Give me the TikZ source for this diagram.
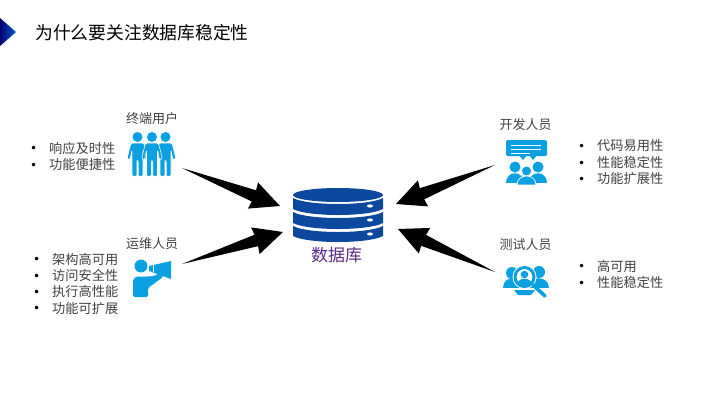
\documentclass[tikz,border=0pt]{standalone}
\usepackage{fontspec}
\setmainfont{Noto Sans CJK SC}
\newfontfamily\simbolos{DejaVu Sans}
\usetikzlibrary{calc,positioning,shadings}
\definecolor{azulicono}{RGB}{10,160,225}
\definecolor{azuldb}{RGB}{11,72,158}
\definecolor{morado}{RGB}{90,40,135}
\definecolor{gristexto}{RGB}{64,64,64}
\tikzset{
    titulo/.style={anchor=west,inner sep=0pt,text=black,font=\fontsize{17.8}{20}\selectfont},
    etiqueta/.style={inner sep=0pt,text=gristexto,font=\fontsize{13}{15}\selectfont},
    punto/.style={inner sep=0pt,minimum height=16pt,text=gristexto,font=\fontsize{13.2}{15}\selectfont,
        label={[inner sep=0pt,label distance=11.5pt,yshift=-1.5pt,text=black,font=\simbolos\fontsize{12}{14}\selectfont]left:•}},
    icono/.style={fill=azulicono,draw=none},
    hueco/.style={fill=white,draw=none},
    banda/.style={fill=azuldb,draw=none},
    persona/.pic={
        \fill [icono] (0,0) circle [radius=5pt];
        \path [icono,draw=white,line width=0.6pt,rounded corners=1.5pt] (-6.5,6) -- (6.5,6) -- (10.5,22) -- (7.5,23) -- (5.5,13) -- (5.5,39.5) -- (0.7,39.5)
            -- (0.7,24) -- (-0.7,24) -- (-0.7,39.5) -- (-5.5,39.5) -- (-5.5,13) -- (-7.5,23) -- (-10.5,22) -- cycle;
    },
}
\newcommand{\flecha}[2]{
    \fill [black] (#1) -- ($(#2)!28pt!(#1)!6pt!90:(#1)$) -- ($(#2)!29pt!(#1)!14pt!90:(#1)$) -- (#2)
        -- ($(#2)!29pt!(#1)!14pt!-90:(#1)$) -- ($(#2)!28pt!(#1)!6pt!-90:(#1)$) -- cycle;
}
\begin{document}
\begin{tikzpicture}[x=1pt,y=-1pt]
    \useasboundingbox (0,0) rectangle (710,400);

    \shade [left color=blue!45!black,right color=blue!55!cyan!80!black] (0,18) -- (16,32) -- (0,46) -- cycle;
    \node [titulo] (titulo) at (35,33) {为什么要关注数据库稳定性};

    \node [etiqueta] (lusuarios) at (152,119) {终端用户};
    \node [etiqueta] (loperacion) at (152,244) {运维人员};
    \node [etiqueta] (ldesarrollo) at (525.5,125) {开发人员};
    \node [etiqueta] (lpruebas) at (525.5,245) {测试人员};
    \node [etiqueta,text=morado,font=\fontsize{17}{20}\selectfont] (ldatos) at (336.5,255) {数据库};

    \node [punto,anchor=west] (u1) at (49,148) {响应及时性};
    \node [punto,below=0pt of u1] (u2) {功能便捷性};

    \node [punto,anchor=west] (o1) at (52,259) {架构高可用};
    \node [punto,below=0pt of o1] (o2) {访问安全性};
    \node [punto,below=0pt of o2] (o3) {执行高性能};
    \node [punto,below=0pt of o3] (o4) {功能可扩展};

    \node [punto,anchor=west] (d1) at (597,146) {代码易用性};
    \node [punto,below=0pt of d1] (d2) {性能稳定性};
    \node [punto,below=0pt of d2] (d3) {功能扩展性};

    \node [punto,anchor=west] (p1) at (597,266) {高可用};
    \node [punto,below=0pt of p1.south west,anchor=north west] (p2) {性能稳定性};

    % base de datos
    \foreach \a/\b in {198/209,212/223,226/236} {
        \fill [banda] (293,\a) -- (293,\b) .. controls (308,\b+8) and (368,\b+8) .. (383,\b)
            -- (383,\a) .. controls (368,\a+8) and (308,\a+8) .. (293,\a) -- cycle;
    }
    \fill [banda] (338,195) ellipse [x radius=45pt,y radius=7pt];
    \foreach \y in {206,220,234} {
        \fill [hueco] (370,\y) ellipse [x radius=3pt,y radius=1.6pt];
    }

    % usuarios
    \pic at (137.5,137) {persona};
    \pic at (165.5,137) {persona};
    \pic at (152,137) {persona};

    % operacion
    \fill [icono] (141,266) circle [radius=6.5pt];
    \fill [icono,rounded corners=1.5pt] (133,297) -- (133,280) -- (136,276.5) -- (148,276.5) -- (154,276) -- (160,273) -- (163,277) -- (148,288) -- (148,297) -- cycle;
    \fill [icono] (149,266) -- (171,261) -- (171,279) -- (149,271) -- cycle;
    \draw [white,line width=0.7pt] (153,265) -- (153,272);
    \fill [icono] (157,274) -- (163,276) -- (160,279) -- cycle;

    % desarrollo
    \fill [icono,rounded corners=1.5pt] (506,140) rectangle (547,156);
    \fill [icono] (519,155) -- (527,155) -- (523,160) -- cycle;
    \fill [icono] (529,155) -- (537,155) -- (533,160) -- cycle;
    \draw [white,line width=0.7pt] (511,145) -- (541,145) (511,149) -- (541,149) (511,153) -- (530,153);
    \fill [icono] (515,167) circle [radius=5.5pt];
    \fill [icono] (538,167) circle [radius=5.5pt];
    \fill [icono] (506,183) .. controls (506,170) and (524,170) .. (524,183) -- cycle;
    \fill [icono] (529,183) .. controls (529,170) and (547,170) .. (547,183) -- cycle;
    \path [icono,draw=white,line width=0.7pt] (526.5,171) circle [radius=5pt];
    \path [icono,draw=white,line width=0.7pt] (517,185) .. controls (517,173) and (536,173) .. (536,185) -- cycle;

    % pruebas
    \fill [icono] (512,273) circle [radius=6pt];
    \fill [icono] (539,272) circle [radius=6pt];
    \fill [icono] (503,288) .. controls (503,275) and (522,275) .. (522,288) -- cycle;
    \fill [icono] (528,288) .. controls (528,275) and (549,275) .. (549,288) -- cycle;
    \fill [hueco] (524.5,277) circle [radius=12pt];
    \draw [azulicono,line width=3pt] (524.5,277) circle [radius=9.5pt];
    \fill [icono] (524.5,274.5) circle [radius=3.8pt];
    \fill [icono] (517.5,284) .. controls (518,277) and (531,277) .. (531.5,284) .. controls (528,286) and (521,286) .. (517.5,284) -- cycle;
    \fill [icono] (514,290) -- (535,290) -- (531,295) -- (518,295) -- cycle;
    \draw [azulicono,line width=3.6pt,line cap=round] (533,285) -- (545,296);

    % flechas
    \coordinate (colau) at (182,168);
    \coordinate (colao) at (182,264);
    \coordinate (colad) at (495,165);
    \coordinate (colap) at (495,272);
    \coordinate (puntau) at (280,206);
    \coordinate (puntao) at (283,232);
    \coordinate (puntad) at (396,204);
    \coordinate (puntap) at (398,229);
    \flecha{colau}{puntau}
    \flecha{colao}{puntao}
    \flecha{colad}{puntad}
    \flecha{colap}{puntap}
\end{tikzpicture}
\end{document}
